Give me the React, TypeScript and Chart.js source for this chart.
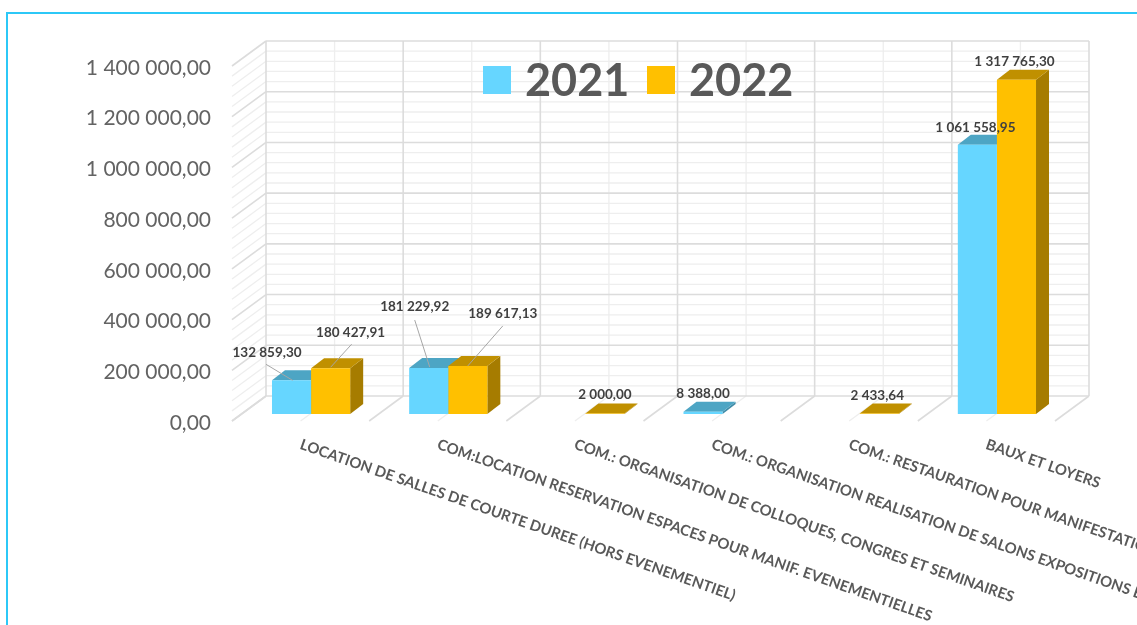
import React, { useEffect, useRef } from "react";
import { Chart, registerables } from "chart.js";

Chart.register(...registerables);

const categories = [
  "LOCATION DE SALLES DE COURTE DUREE (HORS EVENEMENTIEL)",
  "COM:LOCATION RESERVATION ESPACES POUR MANIF. EVENEMENTIELLES",
  "COM.: ORGANISATION DE COLLOQUES, CONGRES ET SEMINAIRES",
  "COM.: ORGANISATION REALISATION DE SALONS EXPOSITIONS ET FOIRES",
  "COM.: RESTAURATION POUR MANIFESTATIONS",
  "BAUX ET LOYERS",
];
const values2021 = [132859.3, 181229.92, null, 8388.0, null, 1061558.95];
const values2022 = [180427.91, 189617.13, 2000.0, null, 2433.64, 1317765.3];

const FONT = "Lato, Carlito, 'Open Sans', sans-serif";

// Placement of value labels relative to the top of each bar: [labelDx, labelDy, leaderStartDx, leaderStartDy, leaderEndDx, leaderEndDy]
const labelPlacement2021 = [
  [-24.5, -28, -25.5, -16, 1, 0],
  [-14, -61, -14, -48, 1, -1],
  null,
  [0, -18],
  null,
  [-2, -17],
];
const labelPlacement2022 = [
  [20, -36, 21, -24, 0, -1],
  [35, -52, 35, -40, 0, 0],
  [0, -18.5],
  null,
  [-2, -18],
  [-2, -18],
];
const placements = [labelPlacement2021, labelPlacement2022];

const WALL_DX = 34;
const WALL_DY = -25;
const LABEL_SHIFT = 2; // the axis text sits this far below the front-plane gridline
const BAR_PLANE_DX = 10.5;
const BAR_PLANE_DY = -7 - LABEL_SHIFT;
const BAR_DEPTH_DX = 13;
const BAR_DEPTH_DY = -10;
const MAJOR = "#dcdcdc";
const MINOR = "#eeeeee";
const topColors = ["#4DA5C4", "#C09000"];
const sideColors = ["#3F8CA8", "#A67C00"];

function fmt(v: number): string {
  const [i, d] = v.toFixed(2).split(".");
  return i.replace(/\B(?=(\d{3})+(?!\d))/g, " ") + "," + d;
}

function line(ctx: CanvasRenderingContext2D, x0: number, y0: number, x1: number, y1: number, color: string, w: number) {
  ctx.strokeStyle = color;
  ctx.lineWidth = w;
  ctx.beginPath();
  ctx.moveTo(x0, y0);
  ctx.lineTo(x1, y1);
  ctx.stroke();
}

function poly(ctx: CanvasRenderingContext2D, pts: number[][], color: string) {
  ctx.fillStyle = color;
  ctx.beginPath();
  pts.forEach((p, i) => (i ? ctx.lineTo(p[0], p[1]) : ctx.moveTo(p[0], p[1])));
  ctx.closePath();
  ctx.fill();
}

const wallsPlugin = {
  id: "walls",
  beforeDraw(chart: any) {
    const { ctx, scales } = chart;
    const y = scales.y;
    const x = scales.x;
    const step = 200000;
    const minorCount = 5;
    const catW = (x.right - x.left) / categories.length;
    const backL = x.left + WALL_DX;
    const backR = x.right + WALL_DX;
    const front = (v: number) => y.getPixelForValue(v) - LABEL_SHIFT;
    const backTop = front(y.max) + WALL_DY;
    const backBot = front(0) + WALL_DY;
    ctx.save();
    for (const major of [false, true]) {
      const color = major ? MAJOR : MINOR;
      const w = major ? 1.6 : 1.3;
      // horizontal lines of back and side wall
      for (let v = 0; v <= y.max; v += step / minorCount) {
        const isMajor = Math.abs(v / step - Math.round(v / step)) < 1e-6;
        if (isMajor !== major) continue;
        const py = front(v);
        line(ctx, x.left, py, backL, py + WALL_DY, color, w);
        line(ctx, backL, py + WALL_DY, backR, py + WALL_DY, color, w);
      }
      // verticals and floor lines
      for (let k = 0; k <= categories.length * 2; k++) {
        const isMajor = k % 2 === 0;
        if (isMajor !== major) continue;
        const fx = x.left + (k * catW) / 2;
        line(ctx, fx + WALL_DX, backTop, fx + WALL_DX, backBot, color, w);
        line(ctx, fx, front(0), fx + WALL_DX, backBot, color, w);
      }
    }
    ctx.restore();
  },
  beforeDatasetsDraw(chart: any) {
    const { ctx } = chart;
    ctx.save();
    ctx.translate(BAR_PLANE_DX, BAR_PLANE_DY);
    chart.data.datasets.forEach((_: any, di: number) => {
      const meta = chart.getDatasetMeta(di);
      meta.data.forEach((bar: any, i: number) => {
        if (chart.data.datasets[di].data[i] == null) return;
        const { x, y, base, width } = bar.getProps(["x", "y", "base", "width"]);
        const x0 = x - width / 2;
        const x1 = x + width / 2;
        poly(ctx, [[x1, y], [x1, base], [x1 + BAR_DEPTH_DX, base + BAR_DEPTH_DY], [x1 + BAR_DEPTH_DX, y + BAR_DEPTH_DY]], sideColors[di]);
        poly(ctx, [[x0, y], [x1, y], [x1 + BAR_DEPTH_DX, y + BAR_DEPTH_DY], [x0 + BAR_DEPTH_DX, y + BAR_DEPTH_DY]], topColors[di]);
      });
    });
  },
  afterDatasetsDraw(chart: any) {
    const { ctx, scales } = chart;
    ctx.restore();
    ctx.save();
    // value labels and leader lines
    ctx.textAlign = "center";
    ctx.textBaseline = "middle";
    ctx.font = `bold 13.5px ${FONT}`;
    chart.data.datasets.forEach((ds: any, di: number) => {
      const meta = chart.getDatasetMeta(di);
      meta.data.forEach((bar: any, i: number) => {
        const v = ds.data[i];
        const p = placements[di][i];
        if (v == null || !p) return;
        const { x, y } = bar.getProps(["x", "y"]);
        const tx = x + BAR_PLANE_DX;
        const ty = y + BAR_PLANE_DY;
        if (p.length > 2) line(ctx, tx + p[2], ty + p[3], tx + p[4], ty + p[5], "#a6a6a6", 1);
        ctx.fillStyle = "#404040";
        ctx.fillText(fmt(v), tx + p[0], ty + p[1]);
      });
    });
    // rotated category labels
    ctx.textAlign = "left";
    ctx.textBaseline = "middle";
    ctx.fillStyle = "#595959";
    ctx.font = `bold 14.9px ${FONT}`;
    categories.forEach((label, i) => {
      const px = scales.x.getPixelForTick(i);
      ctx.save();
      ctx.translate(px, 444);
      ctx.rotate((19.3 * Math.PI) / 180);
      ctx.fillText(label, 0, 0);
      ctx.restore();
    });
    // legend
    ctx.font = `bold 45px ${FONT}`;
    const legendX = [483, 647];
    chart.data.datasets.forEach((ds: any, di: number) => {
      ctx.fillStyle = ds.backgroundColor;
      ctx.fillRect(legendX[di], 66, 28, 28);
      ctx.fillStyle = "#595959";
      ctx.fillText(ds.label, legendX[di] + 42, 81);
    });
    ctx.restore();
  },
};

export default function App() {
  const ref = useRef<HTMLCanvasElement>(null);
  useEffect(() => {
    const chart = new Chart(ref.current as HTMLCanvasElement, {
      type: "bar",
      data: {
        labels: categories,
        datasets: [
          { label: "2021", data: values2021, backgroundColor: "#66D6FF", borderWidth: 0 },
          { label: "2022", data: values2022, backgroundColor: "#FFC000", borderWidth: 0 },
        ],
      },
      options: {
        animation: false,
        responsive: false,
        layout: { padding: { left: 0, top: 66 + LABEL_SHIFT, right: 82, bottom: 0 } },
        datasets: { bar: { categoryPercentage: 0.57, barPercentage: 1, clip: false } },
        plugins: { legend: { display: false }, tooltip: { enabled: false } },
        scales: {
          x: {
            grid: { display: false },
            border: { display: false },
            ticks: { display: false },
            afterFit(s: any) {
              s.height = 204 - LABEL_SHIFT;
            },
          },
          y: {
            min: 0,
            max: 1400000,
            grid: { display: false, drawTicks: false },
            border: { display: false },
            ticks: {
              stepSize: 200000,
              padding: 21,
              color: "#636363",
              font: { family: FONT, size: 21 },
              callback: (v: any) => fmt(Number(v)),
            },
            afterFit(s: any) {
              s.width = 232;
            },
          },
        },
      },
      plugins: [wallsPlugin],
    } as any);
    return () => chart.destroy();
  }, []);
  return (
    <div style={{ position: "fixed", left: 0, top: 0, width: 1137, height: 625, overflow: "hidden", background: "#fff" }}>
      <canvas ref={ref} width={1137} height={625} style={{ position: "absolute", left: 0, top: 0, display: "block" }} />
      <div
        style={{
          position: "absolute",
          left: 6,
          top: 12,
          width: 1300,
          height: 800,
          borderLeft: "2px solid #2CC8F7",
          borderTop: "2px solid #2CC8F7",
          pointerEvents: "none",
        }}
      />
    </div>
  );
}
